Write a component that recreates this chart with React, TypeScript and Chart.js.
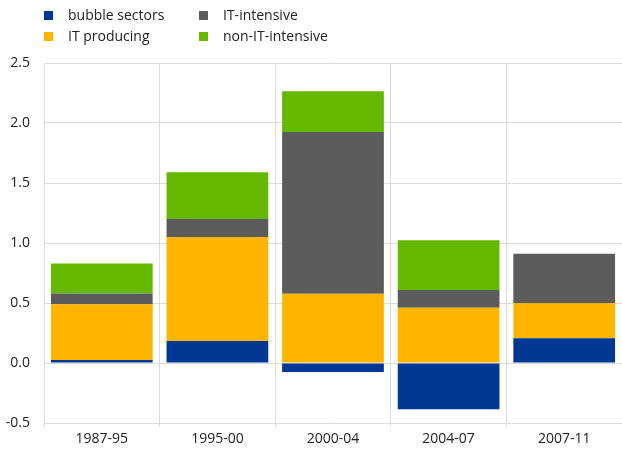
import React, { useEffect, useRef } from "react";
import { Chart, registerables } from "chart.js";

Chart.register(...registerables);

const categories = ["1987-95", "1995-00", "2000-04", "2004-07", "2007-11"];
const bubbleSectors = [0.025, 0.183, -0.075, -0.386, 0.206];
const itProducing = [0.465, 0.867, 0.578, 0.461, 0.294];
const itIntensive = [0.09, 0.15, 1.347, 0.147, 0.411];
const nonItIntensive = [0.25, 0.39, 0.34, 0.414, 0];

const seriesNames = ["bubble sectors", "IT producing", "IT-intensive", "non-IT-intensive"];
const seriesColors = ["#003894", "#FFB400", "#5C5C5C", "#65B800"];
const seriesValues = [bubbleSectors, itProducing, itIntensive, nonItIntensive];

const yMin = -0.5;
const yMax = 2.5;
const yStep = 0.5;

const FONT = "'Open Sans', 'Noto Sans', sans-serif";

export default function App() {
  const canvasRef = useRef<HTMLCanvasElement | null>(null);

  useEffect(() => {
    document.body.style.margin = "0";
    const canvas = canvasRef.current;
    if (!canvas) return;
    const chart = new Chart(canvas, {
      type: "bar",
      data: {
        labels: categories,
        datasets: seriesNames.map((name, i) => ({
          label: name,
          data: seriesValues[i],
          backgroundColor: seriesColors[i],
          borderWidth: 0,
          barPercentage: 0.88,
          categoryPercentage: 1,
        })),
      },
      options: {
        responsive: false,
        animation: false,
        layout: { padding: { top: 63, right: -2, left: 0, bottom: 0 } },
        plugins: {
          legend: { display: false },
          tooltip: { enabled: false },
        },
        scales: {
          x: {
            stacked: true,
            grid: {
              color: "#dcdcdc",
              lineWidth: 1,
              offset: true,
              drawTicks: true,
              tickLength: 4,
            },
            border: { color: "#dcdcdc" },
            ticks: {
              color: "#222",
              font: { family: FONT, size: 14 },
              padding: 4,
            },
            afterFit: (scale: any) => {
              scale.height = 31;
            },
          },
          y: {
            stacked: true,
            min: yMin,
            max: yMax,
            grid: {
              color: "#dcdcdc",
              lineWidth: 1,
              drawTicks: false,
            },
            border: { color: "#dcdcdc" },
            ticks: {
              stepSize: yStep,
              color: "#222",
              font: { family: FONT, size: 14 },
              padding: 14,
              callback: (v: any) => Number(v).toFixed(1),
            },
            afterFit: (scale: any) => {
              scale.width = 44;
            },
          },
        },
      },
    });
    return () => chart.destroy();
  }, []);

  const legendPos = [
    { x: 44, y: 6 },
    { x: 44, y: 27 },
    { x: 199, y: 6 },
    { x: 199, y: 27 },
  ];

  return (
    <div style={{ position: "relative", width: 622, height: 454 }}>
      <canvas ref={canvasRef} width={622} height={454} style={{ display: "block" }} />
      {seriesNames.map((name, i) => (
        <div
          key={name}
          style={{
            position: "absolute",
            left: legendPos[i].x,
            top: legendPos[i].y,
            display: "flex",
            alignItems: "center",
            fontFamily: FONT,
            fontSize: 14,
            color: "#222",
            lineHeight: "18px",
            whiteSpace: "nowrap",
          }}
        >
          <span
            style={{
              display: "inline-block",
              width: 9,
              height: 9,
              background: seriesColors[i],
              marginRight: 15,
            }}
          />
          <span>{name}</span>
        </div>
      ))}
    </div>
  );
}
